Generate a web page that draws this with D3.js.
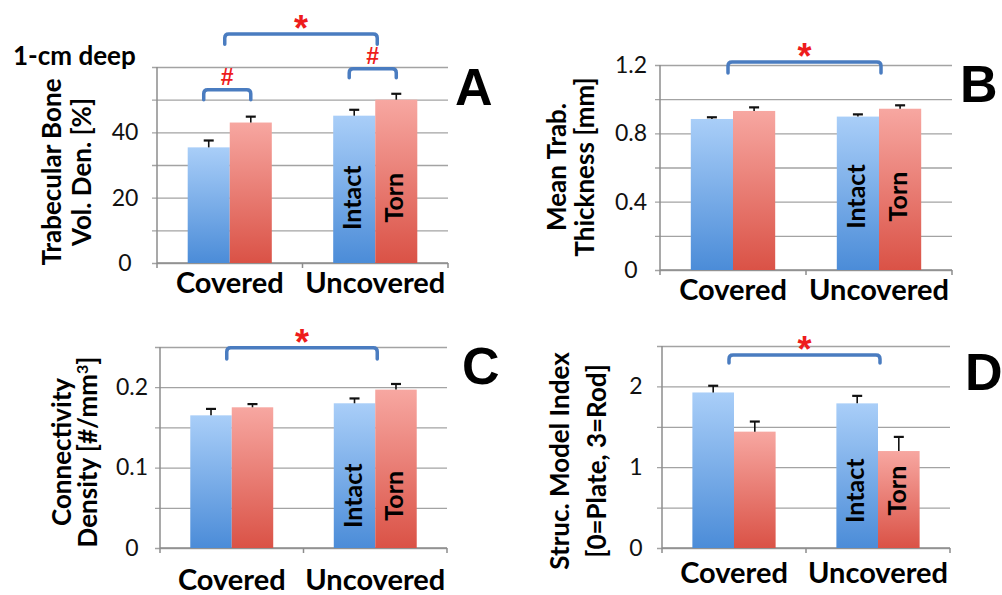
<!DOCTYPE html>
<html>
<head>
<meta charset="utf-8">
<script src="https://cdn.jsdelivr.net/npm/d3@7"></script>
<style>
  body { margin: 0; background: #fff; }
  text { font-family: Lato, "Open Sans", sans-serif; }
</style>
</head>
<body>
<div id="chart"></div>
<script>
const categories = ["Covered", "Uncovered"];
const groups = ["Intact", "Torn"];

// A: trabecular bone volume density [%]
const bvIntact = [35.4, 45.1];
const bvIntactErr = [2.1, 1.8];
const bvTorn = [43.0, 50.0];
const bvTornErr = [1.8, 1.8];
const bvTicks = [0, 20, 40];

// B: mean trabecular thickness [mm]
const thIntact = [0.884, 0.898];
const thIntactErr = [0.010, 0.013];
const thTorn = [0.931, 0.944];
const thTornErr = [0.021, 0.020];
const thTicks = [0, 0.4, 0.8, 1.2];

// C: connectivity density [#/mm3]
const cdIntact = [0.165, 0.180];
const cdIntactErr = [0.008, 0.006];
const cdTorn = [0.175, 0.197];
const cdTornErr = [0.004, 0.007];
const cdTicks = [0, 0.1, 0.2];

// D: structure model index
const smiIntact = [1.925, 1.79];
const smiIntactErr = [0.083, 0.093];
const smiTorn = [1.44, 1.20];
const smiTornErr = [0.125, 0.175];
const smiTicks = [0, 1, 2];

const panels = [
  { letter: "A", intact: bvIntact, intactErr: bvIntactErr, torn: bvTorn, tornErr: bvTornErr,
    ticks: bvTicks, max: 60, grid: 10, x0: 157, x1: 448, yb: 263, yt: 67, tickX: 125, catDy: 30,
    title: ["Trabecular Bone", "Vol. Den. [%]"], titleX: [52, 82], titleY: 172,
    letterX: 455, letterY: 105, barLabel: 20,
    star: [70.1, 67], hash: [[53, 50], [59.5, 56.7]] },
  { letter: "B", intact: thIntact, intactErr: thIntactErr, torn: thTorn, tornErr: thTornErr,
    ticks: thTicks, max: 1.2, grid: 0.2, x0: 660, x1: 952, yb: 270, yt: 65, tickX: 631, catDy: 30,
    title: ["Mean Trab.", "Thickness [mm]"], titleX: [557, 585], titleY: 167,
    letterX: 960, letterY: 102, barLabel: 0.43,
    star: [1.218, 1.153] },
  { letter: "C", intact: cdIntact, intactErr: cdIntactErr, torn: cdTorn, tornErr: cdTornErr,
    ticks: cdTicks, max: 0.25, grid: 0.05, x0: 160, x1: 447, yb: 548, yt: 347, tickX: 132, catDy: 42,
    title: ["Connectivity", "Density [#/mm"], titleX: [62, 88], titleY: 452,
    letterX: 462, letterY: 384, barLabel: 0.065,
    star: [0.249, 0.235] },
  { letter: "D", intact: smiIntact, intactErr: smiIntactErr, torn: smiTorn, tornErr: smiTornErr,
    ticks: smiTicks, max: 2.5, grid: 0.5, x0: 662, x1: 950, yb: 548, yt: 346, tickX: 636, catDy: 35,
    title: ["Struc. Model Index", "[0=Plate, 3=Rod]"], titleX: [560, 597], titleY: 461,
    letterX: 965, letterY: 390, barLabel: 0.71,
    star: [2.39, 2.29] }
];

const svg = d3.select("#chart").append("svg")
  .attr("width", 1002)
  .attr("height", 595);

// bar gradients
const defs = svg.append("defs");
const grads = { Intact: ["#a9cef8", "#4b8cd8"], Torn: ["#f7a7a1", "#da5246"] };
Object.entries(grads).forEach(([k, c]) => {
  const lg = defs.append("linearGradient").attr("id", "g" + k)
    .attr("x1", 0).attr("y1", 0).attr("x2", 0).attr("y2", 1);
  lg.append("stop").attr("offset", "0%").attr("stop-color", c[0]);
  lg.append("stop").attr("offset", "100%").attr("stop-color", c[1]);
});

function bracketPath(xa, xb, top, bot) {
  const r = 4;
  return `M${xa},${bot} L${xa},${top + r} Q${xa},${top} ${xa + r},${top} ` +
    `L${xb - r},${top} Q${xb},${top} ${xb},${top + r} L${xb},${bot}`;
}

function drawBracket(g, xa, xb, top, bot, mark) {
  g.append("path")
    .attr("d", bracketPath(xa, xb, top, bot))
    .attr("fill", "none")
    .attr("stroke", "#4a7cc0")
    .attr("stroke-width", 3.5)
    .attr("stroke-linecap", "round");
  const cx = (xa + xb) / 2;
  if (mark === "*") {
    g.append("text").attr("x", cx).attr("y", top - 13 + 20)
      .attr("text-anchor", "middle")
      .style("font-family", "'Liberation Sans', Arial, sans-serif")
      .attr("font-weight", "bold").attr("font-size", 36).attr("fill", "#ee1c1c")
      .text("*");
  } else {
    g.append("text").attr("x", cx).attr("y", top - 13 + 8)
      .attr("text-anchor", "middle")
      .style("font-family", "'Liberation Sans', Arial, sans-serif")
      .attr("font-weight", "bold").attr("font-size", 23).attr("fill", "#ee1c1c")
      .text("#");
  }
}

panels.forEach(p => {
  const g = svg.append("g");
  const y = d3.scaleLinear().domain([0, p.max]).range([p.yb, p.yt]);
  const x = d3.scaleBand().domain(categories).range([p.x0, p.x1]);
  const xs = d3.scaleBand().domain(groups).range([0, x.bandwidth()]).paddingOuter(0.73);

  // gridlines (extend a little left of the axis as tick marks)
  g.append("g")
    .attr("transform", `translate(${p.x0 - 5},0)`)
    .call(d3.axisRight(y)
      .tickValues(d3.range(0, p.max + p.grid / 2, p.grid))
      .tickSize(p.x1 - p.x0 + 5)
      .tickFormat(""))
    .call(a => a.select(".domain").remove())
    .selectAll("line")
    .attr("stroke", "#a3a3a3")
    .attr("stroke-width", 1.3);

  // y tick labels, centred
  g.append("g")
    .attr("transform", `translate(${p.tickX},0)`)
    .call(d3.axisLeft(y).tickValues(p.ticks).tickSize(0).tickPadding(0).tickFormat(d => String(d)))
    .call(a => a.select(".domain").remove())
    .selectAll("text")
    .attr("text-anchor", "middle")
    .attr("font-size", 23)
    .attr("fill", "#111")
    .style("font-family", "Lato, sans-serif");

  // axis lines
  g.append("line")
    .attr("x1", p.x0).attr("x2", p.x0).attr("y1", p.yt).attr("y2", p.yb)
    .attr("stroke", "#8c8c8c").attr("stroke-width", 1.5);
  g.append("line")
    .attr("x1", p.x0).attr("x2", p.x1).attr("y1", p.yb).attr("y2", p.yb)
    .attr("stroke", "#8c8c8c").attr("stroke-width", 1.5);
  categories.map(c => x(c)).concat(p.x1).forEach(tx => {
    g.append("line")
      .attr("x1", tx).attr("x2", tx).attr("y1", p.yb).attr("y2", p.yb + 5)
      .attr("stroke", "#8c8c8c").attr("stroke-width", 1.5);
  });

  // category labels
  g.append("g")
    .attr("transform", `translate(0,${p.yb})`)
    .call(d3.axisBottom(x).tickSize(0))
    .call(a => a.select(".domain").remove())
    .selectAll("text")
    .attr("y", p.catDy)
    .attr("dy", 0)
    .attr("font-size", 29)
    .attr("font-weight", "bold")
    .attr("fill", "#000")
    .style("font-family", "Lato, sans-serif");

  // bars + error bars
  categories.forEach((c, i) => {
    groups.forEach(grp => {
      const v = grp === "Intact" ? p.intact[i] : p.torn[i];
      const e = grp === "Intact" ? p.intactErr[i] : p.tornErr[i];
      const bx = x(c) + xs(grp);
      const cx = bx + xs.bandwidth() / 2;
      g.append("rect")
        .attr("x", bx).attr("y", y(v))
        .attr("width", xs.bandwidth()).attr("height", p.yb - y(v))
        .attr("fill", `url(#g${grp})`);
      g.append("line")
        .attr("x1", cx).attr("x2", cx).attr("y1", y(v)).attr("y2", y(v + e))
        .attr("stroke", "#111").attr("stroke-width", 1.6);
      g.append("line")
        .attr("x1", cx - 5).attr("x2", cx + 5).attr("y1", y(v + e)).attr("y2", y(v + e))
        .attr("stroke", "#111").attr("stroke-width", 2.2);
      if (i === 1) {
        g.append("text")
          .attr("transform", `translate(${cx + 7},${y(p.barLabel)}) rotate(-90)`)
          .attr("text-anchor", "middle")
          .attr("font-size", 25)
          .attr("font-weight", "bold")
          .attr("fill", "#000")
          .text(grp);
      }
    });
  });

  // significance brackets
  const mid = c => x(c) + x.bandwidth() / 2;
  drawBracket(g, mid("Covered") - 5, mid("Uncovered") + 2, y(p.star[0]), y(p.star[1]), "*");
  if (p.hash) {
    categories.forEach((c, i) => {
      const xa = x(c) + xs("Intact") + xs.bandwidth() / 2 - 5;
      const xb = x(c) + xs("Torn") + xs.bandwidth() / 2;
      drawBracket(g, xa, xb, y(p.hash[i][0]), y(p.hash[i][1]), "#");
    });
  }

  // y-axis title (two rotated lines)
  p.title.forEach((t, k) => {
    const tt = g.append("text")
      .attr("transform", `translate(${p.titleX[k] + 9},${p.titleY}) rotate(-90)`)
      .attr("text-anchor", "middle")
      .attr("font-size", 26)
      .attr("font-weight", "bold")
      .attr("fill", "#000")
      .text(t);
    if (p.letter === "C" && k === 1) {
      tt.append("tspan").attr("dy", -9).attr("font-size", 16).text("3");
      tt.append("tspan").attr("dy", 9).text("]");
    }
  });

  // panel letter
  g.append("text")
    .attr("x", p.letterX).attr("y", p.letterY)
    .style("font-family", "'Liberation Sans', Arial, sans-serif")
    .attr("font-weight", "bold")
    .attr("font-size", 52)
    .attr("fill", "#000")
    .text(p.letter);
});

svg.append("text")
  .attr("x", 13).attr("y", 65)
  .attr("font-size", 26)
  .attr("font-weight", "bold")
  .attr("fill", "#000")
  .text("1-cm deep");
</script>
</body>
</html>
